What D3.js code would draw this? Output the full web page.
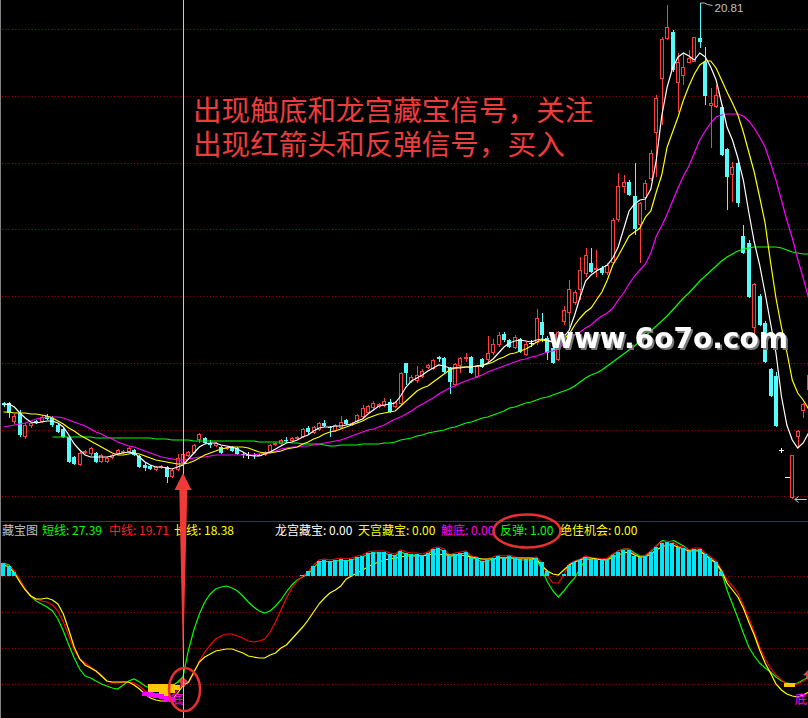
<!DOCTYPE html>
<html>
<head>
<meta charset="utf-8">
<script src="https://cdn.jsdelivr.net/npm/d3@7"></script>
<style>
  html, body { margin: 0; padding: 0; background: #000; overflow: hidden; }
  svg { display: block; }
</style>
</head>
<body>
<div id="chart"></div>
<script>
"use strict";

const none = k => Array(k).fill(null);

// daily bars, oldest first (price)
const opens = [
  12.81, 12.81, 12.43, 12.61, 12.13, 12.35, 12.45, 12.43, 12.55, 12.51,
  12.37, 12.29, 12.13, 11.73, 11.57, 11.81, 11.79, 11.81, 11.63, 11.63,
  11.71, 11.79, 11.81, 11.83, 11.87, 11.75, 11.57, 11.55, 11.47, 11.51,
  11.53, 11.33, 11.47, 11.61, 11.75, 11.81, 12.07, 12.11, 12.01, 11.95,
  11.93, 11.89, 11.93, 11.91, 11.79, 11.77, 11.77, 11.77, 11.77, 11.83,
  11.97, 11.99, 12.07, 12.05, 12.09, 12.13, 12.31, 12.21, 12.27, 12.41,
  12.33, 12.25, 12.31, 12.47, 12.37, 12.43, 12.53, 12.61, 12.71, 12.73,
  12.75, 12.83, 12.73, 12.79, 13.61, 13.23, 13.25, 13.33, 13.51, 13.49,
  13.73, 13.71, 13.51, 13.17, 13.55, 13.69, 13.73, 13.33, 13.69, 13.67,
  13.81, 13.97, 14.19, 14.07, 13.91, 14.09, 13.77, 14.01, 14.01, 14.43,
  14.11, 13.91, 13.67, 14.43, 14.61, 14.81, 15.07, 15.39, 15.61, 15.47,
  15.51, 15.41, 15.61, 16.47, 17.13, 17.23, 16.95, 16.37, 16.91, 17.29,
  18.21, 19.29, 20.09, 20.23, 19.21, 19.35, 19.61, 19.63, 20.11, 19.63,
  18.75, 18.73, 18.73, 17.89, 17.37, 17.61, 16.15, 16.01, 14.31, 14.95,
  14.41, 13.49, 13.35, 11.87, 11.33, 10.91, 12.13, 12.65, 13.07
];
const highs = [
  12.83, 12.83, 12.59, 12.67, 12.41, 12.43, 12.47, 12.57, 12.59, 12.55,
  12.39, 12.31, 12.15, 11.75, 11.83, 11.87, 11.93, 11.83, 11.79, 11.73,
  11.79, 11.89, 11.87, 11.93, 11.89, 11.77, 11.61, 11.57, 11.55, 11.57,
  11.55, 11.51, 11.79, 11.83, 11.85, 11.99, 12.21, 12.13, 12.07, 12.03,
  11.95, 11.95, 11.95, 11.93, 11.83, 11.83, 11.81, 11.79, 11.85, 11.99,
  12.03, 12.09, 12.13, 12.13, 12.15, 12.31, 12.35, 12.35, 12.43, 12.47,
  12.35, 12.39, 12.55, 12.49, 12.43, 12.59, 12.77, 12.77, 12.85, 12.81,
  12.91, 12.89, 12.85, 13.43, 13.61, 13.37, 13.55, 13.49, 13.59, 13.69,
  13.75, 13.73, 13.53, 13.61, 13.73, 13.81, 13.75, 13.57, 13.71, 14.15,
  14.09, 14.23, 14.23, 14.09, 14.17, 14.11, 14.03, 14.07, 14.69, 14.61,
  14.15, 13.93, 14.25, 14.75, 15.27, 15.07, 15.73, 15.91, 15.91, 15.87,
  15.55, 15.61, 16.51, 17.41, 17.37, 17.27, 17.61, 16.83, 17.27, 17.87,
  18.97, 20.13, 20.77, 20.27, 19.81, 19.81, 19.87, 20.13, 20.81, 19.93,
  19.11, 19.17, 18.77, 17.91, 17.63, 17.67, 16.37, 16.07, 15.21, 14.99,
  14.45, 13.51, 13.43, 11.91, 11.33, 11.77, 12.27, 12.81, 13.39
];
const lows = [
  12.73, 12.51, 12.39, 12.13, 12.09, 12.31, 12.39, 12.41, 12.47, 12.33,
  12.21, 12.11, 11.61, 11.57, 11.55, 11.79, 11.75, 11.61, 11.61, 11.61,
  11.69, 11.77, 11.79, 11.81, 11.75, 11.51, 11.45, 11.47, 11.45, 11.49,
  11.21, 11.31, 11.45, 11.57, 11.73, 11.79, 12.01, 11.99, 11.91, 11.93,
  11.79, 11.87, 11.83, 11.77, 11.71, 11.69, 11.69, 11.75, 11.75, 11.81,
  11.95, 11.97, 12.01, 12.03, 12.07, 12.11, 12.19, 12.19, 12.25, 12.33,
  12.13, 12.23, 12.29, 12.37, 12.35, 12.41, 12.51, 12.59, 12.69, 12.71,
  12.73, 12.61, 12.71, 12.77, 13.17, 13.21, 13.21, 13.31, 13.49, 13.47,
  13.63, 13.41, 12.99, 13.15, 13.41, 13.63, 13.39, 13.31, 13.51, 13.61,
  13.77, 13.93, 14.03, 13.91, 13.89, 13.81, 13.75, 13.93, 13.97, 14.03,
  13.67, 13.59, 13.65, 14.37, 14.33, 14.77, 14.87, 15.33, 15.41, 15.33,
  15.37, 15.37, 15.59, 16.43, 17.01, 16.95, 16.17, 15.61, 16.67, 17.25,
  17.33, 18.37, 20.07, 19.43, 18.63, 19.17, 19.61, 19.63, 19.91, 18.77,
  17.91, 18.71, 17.75, 16.67, 16.83, 16.73, 15.79, 14.91, 14.13, 14.35,
  13.61, 12.93, 12.33, 11.81, 11.33, 10.89, 11.91, 12.51, 13.03
];
const closes = [
  12.77, 12.61, 12.55, 12.17, 12.37, 12.41, 12.41, 12.53, 12.49, 12.37,
  12.23, 12.13, 11.63, 11.59, 11.81, 11.85, 11.91, 11.63, 11.77, 11.71,
  11.77, 11.87, 11.85, 11.91, 11.77, 11.53, 11.51, 11.49, 11.53, 11.55,
  11.33, 11.47, 11.71, 11.79, 11.83, 11.97, 12.19, 12.01, 11.97, 12.01,
  11.81, 11.93, 11.85, 11.79, 11.77, 11.77, 11.75, 11.77, 11.83, 11.97,
  12.01, 12.07, 12.05, 12.11, 12.13, 12.29, 12.23, 12.33, 12.41, 12.35,
  12.31, 12.37, 12.43, 12.39, 12.41, 12.57, 12.71, 12.75, 12.81, 12.79,
  12.85, 12.63, 12.83, 13.41, 13.41, 13.33, 13.37, 13.45, 13.57, 13.67,
  13.69, 13.43, 13.23, 13.59, 13.71, 13.73, 13.41, 13.55, 13.53, 13.81,
  13.99, 14.17, 14.07, 13.93, 14.13, 13.83, 13.99, 14.01, 14.51, 14.17,
  13.81, 13.61, 14.23, 14.67, 15.09, 15.03, 15.47, 15.77, 15.43, 15.51,
  15.41, 15.57, 16.47, 17.15, 17.23, 16.97, 16.29, 16.81, 17.21, 17.81,
  18.91, 20.09, 20.33, 19.47, 19.63, 19.53, 19.71, 20.13, 20.03, 18.95,
  18.81, 18.97, 17.77, 17.33, 17.53, 16.81, 15.81, 14.93, 15.19, 14.37,
  13.63, 12.95, 12.35, 11.87, 11.33, 11.77, 12.25, 12.79, 13.37
];

// moving averages as drawn (white 5, yellow 10, magenta 20, green 60)
const ma5 = [
  12.77, 12.79, 12.73, 12.61, 12.51, 12.43, 12.41, 12.43, 12.45, 12.45,
  12.41, 12.33, 12.17, 11.99, 11.87, 11.77, 11.73, 11.73, 11.73, 11.73,
  11.75, 11.79, 11.81, 11.83, 11.81, 11.73, 11.63, 11.57, 11.53, 11.53,
  11.51, 11.49, 11.53, 11.57, 11.69, 11.81, 11.93, 11.99, 12.01, 12.01,
  11.97, 11.95, 11.93, 11.89, 11.83, 11.77, 11.75, 11.75, 11.79, 11.83,
  11.89, 11.95, 12.01, 12.03, 12.07, 12.13, 12.17, 12.25, 12.31, 12.33,
  12.33, 12.35, 12.35, 12.37, 12.39, 12.45, 12.49, 12.59, 12.67, 12.75,
  12.77, 12.79, 12.81, 12.95, 13.13, 13.25, 13.31, 13.37, 13.45, 13.51,
  13.57, 13.55, 13.51, 13.51, 13.51, 13.53, 13.53, 13.55, 13.55, 13.61,
  13.69, 13.81, 13.93, 14.01, 14.05, 14.07, 14.05, 14.03, 14.07, 14.09,
  14.07, 14.03, 14.05, 14.13, 14.27, 14.57, 14.93, 15.25, 15.37, 15.45,
  15.51, 15.57, 15.71, 15.93, 16.29, 16.65, 16.79, 16.87, 16.89, 17.09,
  17.67, 18.55, 19.13, 19.51, 19.73, 19.81, 19.75, 19.67, 19.81, 19.73,
  19.53, 19.27, 18.81, 18.33, 18.07, 17.71, 17.27, 16.63, 16.03, 15.57,
  15.01, 14.41, 13.81, 12.95, 12.37, 12.07, 11.91, 12.01, 12.21
];
const ma10 = [
  12.63, 12.63, 12.61, 12.61, 12.61, 12.59, 12.59, 12.57, 12.55, 12.51,
  12.45, 12.39, 12.31, 12.25, 12.17, 12.11, 12.05, 11.99, 11.93, 11.87,
  11.81, 11.77, 11.77, 11.79, 11.81, 11.79, 11.75, 11.71, 11.67, 11.65,
  11.63, 11.61, 11.59, 11.59, 11.61, 11.65, 11.71, 11.77, 11.81, 11.85,
  11.89, 11.91, 11.93, 11.93, 11.93, 11.91, 11.87, 11.83, 11.81, 11.81,
  11.83, 11.85, 11.89, 11.91, 11.93, 11.99, 12.03, 12.09, 12.13, 12.19,
  12.23, 12.25, 12.29, 12.33, 12.37, 12.41, 12.45, 12.51, 12.55, 12.59,
  12.61, 12.63, 12.65, 12.75, 12.85, 12.95, 13.05, 13.11, 13.15, 13.23,
  13.31, 13.39, 13.47, 13.51, 13.53, 13.53, 13.53, 13.55, 13.57, 13.59,
  13.63, 13.69, 13.73, 13.79, 13.81, 13.85, 13.89, 13.95, 14.03, 14.07,
  14.05, 14.03, 14.03, 14.09, 14.19, 14.37, 14.51, 14.63, 14.71, 14.87,
  15.03, 15.27, 15.57, 15.75, 15.95, 16.15, 16.23, 16.31, 16.53, 16.65,
  17.03, 17.37, 17.93, 18.23, 18.53, 18.87, 19.15, 19.39, 19.57, 19.65,
  19.65, 19.51, 19.27, 19.03, 18.81, 18.57, 18.23, 17.83, 17.43, 16.93,
  16.41, 15.63, 14.91, 14.33, 13.83, 13.27, 13.01, 12.87, 12.69
];
const ma20 = [
  12.33, 12.35, 12.37, 12.39, 12.41, 12.45, 12.49, 12.51, 12.53, 12.53,
  12.53, 12.51, 12.47, 12.43, 12.39, 12.35, 12.29, 12.23, 12.19, 12.13,
  12.09, 12.03, 11.99, 11.95, 11.93, 11.89, 11.85, 11.81, 11.77, 11.73,
  11.71, 11.69, 11.67, 11.67, 11.69, 11.71, 11.73, 11.73, 11.75, 11.77,
  11.77, 11.77, 11.77, 11.77, 11.77, 11.77, 11.77, 11.79, 11.81, 11.83,
  11.85, 11.89, 11.91, 11.93, 11.93, 11.95, 11.95, 11.97, 11.99, 12.01,
  12.03, 12.05, 12.07, 12.11, 12.15, 12.19, 12.23, 12.27, 12.29, 12.33,
  12.37, 12.43, 12.49, 12.53, 12.59, 12.65, 12.73, 12.79, 12.85, 12.91,
  12.99, 13.05, 13.11, 13.15, 13.21, 13.25, 13.29, 13.33, 13.37, 13.43,
  13.47, 13.51, 13.55, 13.59, 13.63, 13.67, 13.69, 13.73, 13.75, 13.79,
  13.83, 13.85, 13.89, 13.99, 14.09, 14.17, 14.23, 14.31, 14.37, 14.47,
  14.55, 14.61, 14.71, 14.87, 15.01, 15.19, 15.35, 15.47, 15.59, 15.81,
  16.15, 16.35, 16.59, 16.85, 17.11, 17.35, 17.55, 17.81, 18.07, 18.25,
  18.41, 18.53, 18.57, 18.59, 18.59, 18.59, 18.55, 18.45, 18.31, 18.13,
  17.93, 17.61, 17.27, 16.87, 16.47, 16.11, 15.69, 15.31, 14.91
];
const ma60 = [
  ...none(9), 12.13,
  12.13, 12.13, 12.13, 12.13, 12.13, 12.13, 12.13, 12.11, 12.11, 12.11,
  12.11, 12.11, 12.11, 12.11, 12.11, 12.11, 12.11, 12.11, 12.09, 12.09,
  12.09, 12.07, 12.07, 12.07, 12.07, 12.05, 12.05, 12.05, 12.05, 12.05,
  12.05, 12.05, 12.05, 12.05, 12.05, 12.05, 12.05, 12.03, 12.03, 12.03,
  12.03, 12.03, 12.03, 12.01, 12.01, 11.99, 11.99, 11.99, 11.99, 11.97,
  11.95, 11.95, 11.97, 11.97, 11.97, 11.97, 11.99, 11.99, 11.99, 11.99,
  12.01, 12.01, 12.03, 12.07, 12.09, 12.11, 12.15, 12.17, 12.21, 12.23,
  12.25, 12.27, 12.31, 12.33, 12.37, 12.41, 12.43, 12.47, 12.51, 12.53,
  12.57, 12.61, 12.65, 12.71, 12.73, 12.77, 12.81, 12.83, 12.87, 12.91,
  12.93, 12.97, 13.01, 13.05, 13.09, 13.15, 13.23, 13.31, 13.37, 13.41,
  13.47, 13.55, 13.63, 13.71, 13.79, 13.87, 13.95, 14.05, 14.15, 14.25,
  14.35, 14.45, 14.55, 14.67, 14.79, 14.91, 15.01, 15.13, 15.25, 15.35,
  15.45, 15.55, 15.65, 15.73, 15.79, 15.85, 15.89, 15.91, 15.93, 15.93,
  15.93, 15.93, 15.93, 15.91, 15.87, 15.83, 15.81, 15.79, 15.79
];

// 藏宝图 indicator
const shortLine = [
  141, 139, 132, 124, 115, 108, 103, 100, 97, 93,
  85, 73, 59, 46, 35, 28, 26, 23, 20, 18,
  16, 15, 19, 23, 25, 22, 18, 16, 15, 15,
  16, 18, 22, 27.39, 54, 74, 90, 102, 110, 115,
  117, 118, 116, 113, 108, 102, 97, 93, 91, 93,
  98, 104, 112, 119, 124, 127, 130, 136, 142, 143,
  142, 143, 144, 143, 144, 146, 147, 150, 151, 151,
  151, 149, 148, 152, 150, 149, 149, 148, 150, 154,
  155, 153, 147, 149, 150, 151, 146, 145, 142, 143,
  145, 147, 146, 147, 145, 144, 144, 144, 145, 134,
  122, 113, 107, 113, 120, 126, 136, 144, 145, 145,
  144, 145, 149, 153, 155, 155, 151, 148, 148, 152,
  158, 163, 165, 164, 161, 158, 154, 154, 154, 149,
  145, 140, 132, 114, 100, 86, 71, 57, 48, 41,
  36, 32, 27, 23, 21, 20, 21, 24, 27
];
const midLine = [
  140, 138, 133, 124, 115, 108, 105, 103, 102, 99,
  93, 82, 68, 54, 45, 41, 37, 33, 29, 23,
  21, 21, 22, 22, 21, 18, 13, 10, 8, 7,
  7, 8, 14, 19.71, 21, 31, 43, 52, 59, 65,
  68, 70, 70, 68, 66, 63, 62, 63, 65, 72,
  82, 94, 106, 116, 123, 128, 132, 139, 144, 145,
  144, 145, 146, 145, 146, 148, 149, 152, 153, 153,
  153, 151, 150, 154, 152, 151, 151, 150, 152, 156,
  157, 155, 149, 151, 152, 153, 148, 147, 144, 145,
  147, 149, 148, 149, 147, 146, 146, 146, 147, 141,
  128, 121, 121, 129, 140, 143, 145, 148, 146, 146,
  145, 146, 150, 153, 155, 155, 149, 148, 149, 153,
  158, 162, 163, 162, 158, 157, 154, 156, 156, 151,
  147, 143, 134, 124, 118, 111, 99, 86, 72, 57,
  45, 36, 29, 24, 20, 19, 20, 23, 27
];
const longLine = [
  139, 137, 131, 122, 114, 108, 105, 105, 106, 104,
  100, 90, 74, 57, 45, 39, 36, 33, 28, 23,
  22, 22, 22, 22, 19, 15, 10, 6, 4, 3,
  3, 4, 11, 18.38, 22, 32, 42, 47, 50, 53,
  54, 55, 55, 53, 51, 48, 47, 46, 46, 49,
  51, 56, 59, 65, 71, 77, 84, 92, 100, 106,
  111, 114, 118, 125, 128, 131, 134, 137, 140, 142,
  144, 145, 146, 147, 148, 148, 148, 148, 149, 150,
  150, 149, 149, 149, 149, 148, 147, 146, 145, 145,
  145, 146, 146, 146, 146, 146, 146, 146, 145, 138,
  133, 130, 129, 134, 139, 142, 144, 146, 146, 145,
  144, 144, 147, 149, 151, 152, 149, 147, 147, 150,
  154, 157, 159, 159, 157, 155, 153, 153, 153, 149,
  145, 141, 133, 121, 114, 107, 96, 82, 69, 54,
  41, 31, 20, 14, 10, 8, 7, 9, 12
];
const treasureBars = [
  141, 138, 132, ...none(52),
  129, 133, 138, 143, 144,
  143, 144, 145, 144, 145, 147, 148, 151, 152, 152,
  152, 150, 149, 153, 151, 150, 150, 149, 151, 155,
  156, 154, 148, 150, 151, 152, 147, 146, 143, 144,
  146, 148, 147, 148, 146, 145, 145, 145, 146, 142,
  133, null, null, 130, 139, 142, 144, 147, 145, 145,
  144, 145, 149, 152, 154, 154, 148, 147, 148, 152,
  157, 161, 162, 161, 157, 156, 153, 155, 155, 150,
  146, 142, 133, ...none(16)
];
const barBase = 128;
const goldIdx = [27, 28, 29, 30, 31, 32, 144, 145];
const goldTop = [20, 20, 20, 20, 20, 19, 21, 21];
const goldBottom = [12, 12, 6, 8, 11, 14, 17, 17];
const pinkIdx = [26, 27, 28, 29, 30, 31];
const pinkTop = [12, 12, 11, 10, 8, 7];
const pinkBottom = [8, 7, 6, 5, 3, 2];
const bottomSignals = [32, 147];
const reboundSignals = [33, 148];
const lowerGrid = [20, 56, 92, 128];
const signalNames = ["龙宫藏宝", "天宫藏宝", "触底", "反弹", "绝佳机会"];
const signalValues = [0, 0, 0, 1, 0];
const cursorIndex = 33;

const notes = ["出现触底和龙宫藏宝信号，关注", "出现红箭头和反弹信号，买入"];

// ---------------------------------------------------------------
const W = 808, H = 718;
const UP = "#ff3b3b", DOWN = "#54fcfc";
const CJK = "'Noto Sans CJK SC', sans-serif";
const f2 = d3.format(".2f");
const n = closes.length;

const x = d3.scaleLinear().domain([0, n - 1]).range([3.5, 808.6]);
const y = d3.scaleLinear().domain([d3.min(lows), d3.max(highs)]).range([499, 3]);
const yl = d3.scaleLinear().domain([0, 160]).range([704, 544]);

const svg = d3.select("#chart").append("svg")
  .attr("width", W).attr("height", H)
  .style("background", "#000");

const defs = svg.append("defs");
defs.append("clipPath").attr("id", "mainClip")
  .append("rect").attr("x", 0).attr("y", 0).attr("width", W).attr("height", 519);
defs.append("clipPath").attr("id", "lowClip")
  .append("rect").attr("x", 0).attr("y", 540).attr("width", W).attr("height", H - 540);
defs.append("filter").attr("id", "shadow")
  .attr("x", "-5%").attr("y", "-20%").attr("width", "115%").attr("height", "150%")
  .append("feDropShadow")
  .attr("dx", 2).attr("dy", 2).attr("stdDeviation", 0)
  .attr("flood-color", "#7a7a7a").attr("flood-opacity", 1);

// Grid
const grid = svg.append("g").attr("stroke", "#a80000").attr("stroke-dasharray", "1,2.3");
d3.range(8).forEach(function(k) {
  const gy = Math.round(29.3 + k * 66.7) + 0.5;
  grid.append("line").attr("x1", 2).attr("x2", W).attr("y1", gy).attr("y2", gy);
});
lowerGrid.forEach(function(v) {
  const gy = Math.round(yl(v)) + 0.5;
  grid.append("line").attr("x1", 2).attr("x2", W).attr("y1", gy).attr("y2", gy);
});

// Candles
const kG = svg.append("g").attr("clip-path", "url(#mainClip)").attr("shape-rendering", "crispEdges");
closes.forEach(function(c, i) {
  const o = opens[i];
  const px = Math.round(x(i));
  const cx = px + 0.5;
  const yTop = Math.round(y(Math.max(o, c)));
  const yBot = Math.round(y(Math.min(o, c)));
  const yHi = Math.round(y(highs[i]));
  const yLo = Math.round(y(lows[i]));

  if (c > o) {
    kG.append("line").attr("x1", cx).attr("x2", cx).attr("y1", yHi).attr("y2", yTop).attr("stroke", UP);
    kG.append("line").attr("x1", cx).attr("x2", cx).attr("y1", yBot).attr("y2", yLo).attr("stroke", UP);
    kG.append("rect")
      .attr("x", px - 1.5).attr("y", yTop + 0.5)
      .attr("width", 3).attr("height", Math.max(yBot - yTop - 1, 0))
      .attr("fill", "#000").attr("stroke", UP);
  } else if (c < o) {
    kG.append("line").attr("x1", cx).attr("x2", cx).attr("y1", yHi).attr("y2", yLo).attr("stroke", DOWN);
    kG.append("rect")
      .attr("x", px - 2).attr("y", yTop)
      .attr("width", 4).attr("height", Math.max(yBot - yTop, 1))
      .attr("fill", DOWN);
  } else {
    // flat day
    kG.append("line").attr("x1", cx).attr("x2", cx).attr("y1", yHi).attr("y2", yLo).attr("stroke", "#fff");
    kG.append("line").attr("x1", px - 2).attr("x2", px + 3).attr("y1", yTop + 0.5).attr("y2", yTop + 0.5).attr("stroke", "#fff");
  }
});

// Moving averages
const maLine = d3.line().defined(d => d != null).x((d, i) => x(i)).y(d => y(d));
const maG = svg.append("g").attr("clip-path", "url(#mainClip)").attr("fill", "none").attr("stroke-width", 1.2);
[[ma60, "#00ff00"], [ma20, "#ff00ff"], [ma10, "#ffff00"], [ma5, "#ffffff"]].forEach(function(m) {
  maG.append("path").datum(m[0]).attr("d", maLine).attr("stroke", m[1]);
});

// High / low labels
const peak = d3.maxIndex(highs), trough = d3.minIndex(lows);
const hx = Math.round(x(peak)) + 0.5, hy = y(highs[peak]);
svg.append("polyline")
  .attr("points", [[hx, hy], [hx + 4, hy], [hx + 7, hy + 1.5], [hx + 12, hy + 2.5]].join(" "))
  .attr("fill", "none").attr("stroke", "#c0c0c0");
svg.append("text")
  .attr("x", hx + 14).attr("y", hy + 9)
  .text(f2(highs[peak]))
  .attr("font-family", "'Liberation Sans', Arial, sans-serif")
  .attr("font-size", "11.5px")
  .attr("fill", "#c0c0c0");

const lx = x(trough) + 2.5, ly = Math.round(y(lows[trough])) + 0.5;
svg.append("path")
  .attr("d", `M${lx},${ly}H${lx + 12}M${lx},${ly}l4,-3M${lx},${ly}l4,3`)
  .attr("fill", "none").attr("stroke", "#c0c0c0");
svg.append("text")
  .attr("x", lx + 13).attr("y", ly + 4)
  .text(f2(lows[trough]))
  .attr("font-family", "'Liberation Sans', Arial, sans-serif")
  .attr("font-size", "11.5px")
  .attr("fill", "#c0c0c0");

// Annotation, two lines in one text block
const note = svg.append("text")
  .attr("font-family", CJK)
  .attr("font-size", "28.6px")
  .attr("fill", "#ee3b3b");
notes.forEach(function(t, k) {
  note.append("tspan").attr("x", 193).attr("y", 120.5 + k * 34).text(t);
});

// Watermark
svg.append("text")
  .attr("x", 548).attr("y", 348)
  .text("www.6o7o.com")
  .attr("font-family", "'DejaVu Sans', sans-serif")
  .attr("font-weight", "bold")
  .attr("font-size", "28px")
  .attr("textLength", 240)
  .attr("lengthAdjust", "spacingAndGlyphs")
  .attr("fill", "#ffffff")
  .attr("filter", "url(#shadow)");

// Panel separator and header
svg.append("line").attr("x1", 0).attr("x2", W).attr("y1", 521.5).attr("y2", 521.5).attr("stroke", "#b40000");

const header = [
  { t: "藏宝图", x: 2, c: "#c0c0c0" },
  { t: "短线: " + f2(shortLine[cursorIndex]), x: 42, c: "#00ff00" },
  { t: "中线: " + f2(midLine[cursorIndex]), x: 109, c: "#ff2020" },
  { t: "长线: " + f2(longLine[cursorIndex]), x: 174, c: "#ffff00" }
];
const sigX = [275, 358, 441, 500, 560];
const sigC = ["#ffffff", "#ffff00", "#ff00ff", "#00ff00", "#ffff00"];
signalNames.forEach(function(s, k) {
  header.push({ t: s + ": " + f2(signalValues[k]), x: sigX[k], c: sigC[k] });
});
header.forEach(function(h) {
  svg.append("text")
    .attr("x", h.x).attr("y", 534.5)
    .text(h.t)
    .attr("font-family", CJK)
    .attr("font-size", "12px")
    .attr("fill", h.c);
});

// Lower panel
const lowG = svg.append("g").attr("clip-path", "url(#lowClip)");
const indLine = d3.line().x((d, i) => x(i)).y(d => yl(d));
[[shortLine, "#00ff00"], [midLine, "#ff0000"], [longLine, "#ffff00"]].forEach(function(s) {
  lowG.append("path").datum(s[0]).attr("d", indLine)
    .attr("fill", "none").attr("stroke", s[1]).attr("stroke-width", 1.2);
});

const barG = lowG.append("g").attr("shape-rendering", "crispEdges");
treasureBars.forEach(function(v, i) {
  if (v == null) return;
  barG.append("rect")
    .attr("x", Math.round(x(i) - 2.2)).attr("y", yl(v))
    .attr("width", 4.4).attr("height", yl(barBase) - yl(v))
    .attr("fill", "#00e6f6");
});
goldIdx.forEach(function(i, k) {
  barG.append("rect")
    .attr("x", x(i) - 2.72).attr("y", yl(goldTop[k]))
    .attr("width", 5.44).attr("height", yl(goldBottom[k]) - yl(goldTop[k]))
    .attr("fill", "#ffc800");
});
pinkIdx.forEach(function(i, k) {
  barG.append("rect")
    .attr("x", x(i) - 2.72).attr("y", yl(pinkTop[k]))
    .attr("width", 5.44).attr("height", yl(pinkBottom[k]) - yl(pinkTop[k]))
    .attr("fill", "#ff00ff");
});
bottomSignals.forEach(function(i) {
  lowG.append("text")
    .attr("x", Math.min(x(i), W - 7)).attr("y", 704)
    .attr("text-anchor", "middle")
    .text("底")
    .attr("font-family", CJK)
    .attr("font-size", "12.5px")
    .attr("fill", "#ff00ff");
});

// Cursor line
const cx0 = Math.round(x(cursorIndex)) + 0.5;
svg.append("line").attr("x1", cx0).attr("x2", cx0).attr("y1", 0).attr("y2", H)
  .attr("stroke", "#c8c8c8");
svg.append("line").attr("x1", 0.5).attr("x2", 0.5).attr("y1", 0).attr("y2", H)
  .attr("stroke", "#808080");

reboundSignals.forEach(function(i) {
  const ax = x(i), ty = yl(midLine[i]) - 7;
  lowG.append("path")
    .attr("d", `M${ax},${ty}l5,5h-3v4h-4v-4h-3z`)
    .attr("fill", "#ff3030").attr("stroke", "#909090").attr("stroke-width", 0.6);
});

// Big arrow from price bar to indicator, and marker rings
const ax = x(cursorIndex);
const tipY = y(lows[cursorIndex]) + 8;
svg.append("polygon")
  .attr("points", [
    [ax, tipY], [ax + 8.5, tipY + 17], [ax + 4.3, tipY + 17],
    [ax, 665], [ax - 3.7, tipY + 17], [ax - 8.5, tipY + 17]
  ].join(" "))
  .attr("fill", "#f03a3a");

svg.append("ellipse")
  .attr("cx", ax + 1.5).attr("cy", 689.5).attr("rx", 15.5).attr("ry", 21.5)
  .attr("fill", "none").attr("stroke", "#e83030").attr("stroke-width", 2.5);
svg.append("ellipse")
  .attr("cx", sigX[3] + 27).attr("cy", 531).attr("rx", 33.5).attr("ry", 16.5)
  .attr("fill", "none").attr("stroke", "#e83030").attr("stroke-width", 2.5);
</script>
</body>
</html>
